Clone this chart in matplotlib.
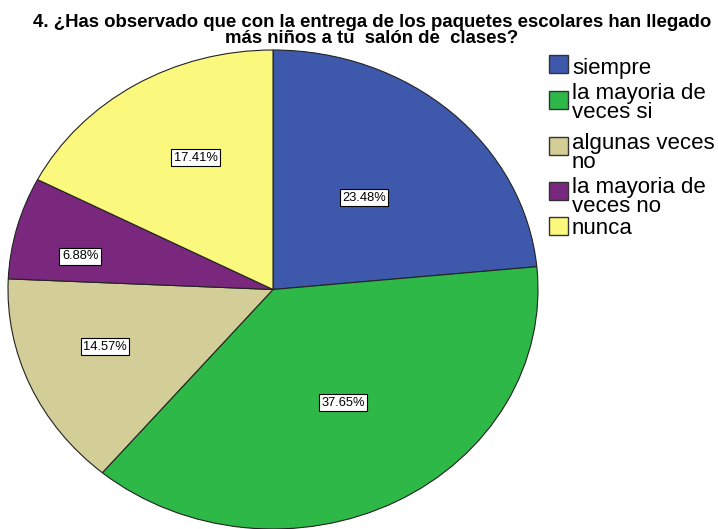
import matplotlib.pyplot as plt
from matplotlib.patches import Rectangle

categories = ["siempre", "la mayoria de\nveces si", "algunas veces\nno",
              "la mayoria de\nveces no", "nunca"]
percentages = [23.48, 37.65, 14.57, 6.88, 17.41]
colors = ["#3e58ac", "#2eb848", "#d3ce97", "#79287e", "#fbf87e"]
title = ("4. ¿Has observado que con la entrega de los paquetes escolares han llegado\n"
         "más niños a tu  salón de  clases?")

# where the percent labels sit (fractions of the pie radius)
label_xy = [(0.343, 0.384), (0.264, -0.472), (-0.634, -0.238),
            (-0.728, 0.138), (-0.291, 0.551)]

plt.rcParams['font.family'] = ['Liberation Sans', 'DejaVu Sans']

fig = plt.figure(figsize=(7.18, 5.29), dpi=100)
W, H = 718, 529

# pie is drawn as an ellipse: x 8..538, y 50..529 (pixels from top)
ax = fig.add_axes([8 / W, 0 / H, 530 / W, 479 / H])
wedges, texts, autotexts = ax.pie(
    percentages, colors=colors, startangle=90, counterclock=False,
    autopct='%.2f%%',
    wedgeprops=dict(edgecolor='#222222', linewidth=0.8),
    textprops=dict(fontsize=9.3))
ax.set_aspect('auto')
ax.set_xlim(-1, 1)
ax.set_ylim(-1, 1)

for t, pos in zip(autotexts, label_xy):
    t.set_position(pos)
    t.set_bbox(dict(facecolor='white', edgecolor='black', linewidth=0.8, pad=1.8))

fig.text(372 / W, 1 - 14 / H, title, ha='center', va='top', fontsize=13.4,
         fontweight='bold', linespacing=0.92)

# legend
box_tops = [55, 91, 137, 182, 217]
text_tops = [58, 83, 133, 177, 218]
for yb, yt, c, lab in zip(box_tops, text_tops, colors, categories):
    fig.patches.append(Rectangle((549 / W, 1 - (yb + 18) / H), 19 / W, 18 / H,
                                 facecolor=c, edgecolor='#333333', linewidth=1,
                                 transform=fig.transFigure, figure=fig))
    fig.text(572 / W, 1 - yt / H, lab, ha='left', va='top', fontsize=16,
             linespacing=0.88)

plt.savefig("out.png", dpi=100)
